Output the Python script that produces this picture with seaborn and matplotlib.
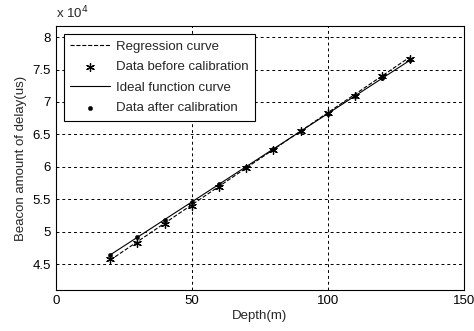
import numpy as np
import pandas as pd
import seaborn as sns
import matplotlib
matplotlib.use('Agg')
import matplotlib.pyplot as plt
from matplotlib.ticker import FuncFormatter

sns.set_style('white')
plt.rcParams['font.family'] = ['Liberation Sans', 'DejaVu Sans']

# данные
depth = [20, 30, 40, 50, 60, 70, 80, 90, 100, 110, 120, 130]
before_cal = [45700, 48300, 51200, 54000, 56900, 59800, 62600, 65500, 68300, 71000, 74000, 76700]
after_cal = [46400, 49200, 51800, 54600, 57300, 60000, 62700, 65500, 68200, 71000, 73700, 76500]
line_x = [20, 130]
regression_y = [45600, 76900]
ideal_y = [46400, 76400]

df_pts = pd.DataFrame({'depth': depth, 'before': before_cal, 'after': after_cal})
df_line = pd.DataFrame({'depth': line_x, 'regr': regression_y, 'ideal': ideal_y})

fig = plt.figure(figsize=(4.74, 3.31), dpi=100)
ax = fig.add_axes([0.1175, 0.124, 0.8615, 0.797])

sns.lineplot(data=df_line, x='depth', y='regr', ax=ax, color='black', linestyle='--',
             linewidth=0.8, label='Regression curve')
sns.scatterplot(data=df_pts, x='depth', y='before', ax=ax, marker=(6, 2, 0), s=32,
                color='black', linewidth=0.9, label='Data before calibration')
sns.lineplot(data=df_line, x='depth', y='ideal', ax=ax, color='black', linestyle='-',
             linewidth=0.8, label='Ideal function curve')
sns.scatterplot(data=df_pts, x='depth', y='after', ax=ax, marker='o', s=10,
                color='black', edgecolor='black', label='Data after calibration')

ax.set_xlim(0, 150)
ax.set_ylim(41000, 81700)
ax.set_xticks([0, 50, 100, 150])
ax.set_yticks(np.arange(45000, 80001, 5000))
ax.yaxis.set_major_formatter(FuncFormatter(lambda v, p: '{:g}'.format(v / 1e4)))
ax.grid(True, color='black', linestyle=(0, (3, 3)), linewidth=0.7)
ax.tick_params(direction='in', length=3, labelsize=9.5, colors='black')
for s in ax.spines.values():
    s.set_color('black')
    s.set_linewidth(0.8)

ax.set_xlabel('Depth(m)', fontsize=9.5, labelpad=2)
ax.set_ylabel('Beacon amount of delay(us)', fontsize=9.5, labelpad=4)
ax.text(0.0, 1.02, r'x 10$^4$', transform=ax.transAxes, fontsize=9.5, va='bottom', ha='left')

leg = ax.legend(loc='upper left', bbox_to_anchor=(0.02, 0.97), borderaxespad=0,
                fontsize=9.5, frameon=True, fancybox=False, edgecolor='black',
                framealpha=1, handlelength=3.0, borderpad=0.5, labelspacing=0.62,
                handletextpad=0.45)
leg.get_frame().set_linewidth(0.8)

fig.savefig('out.png', dpi=100)
